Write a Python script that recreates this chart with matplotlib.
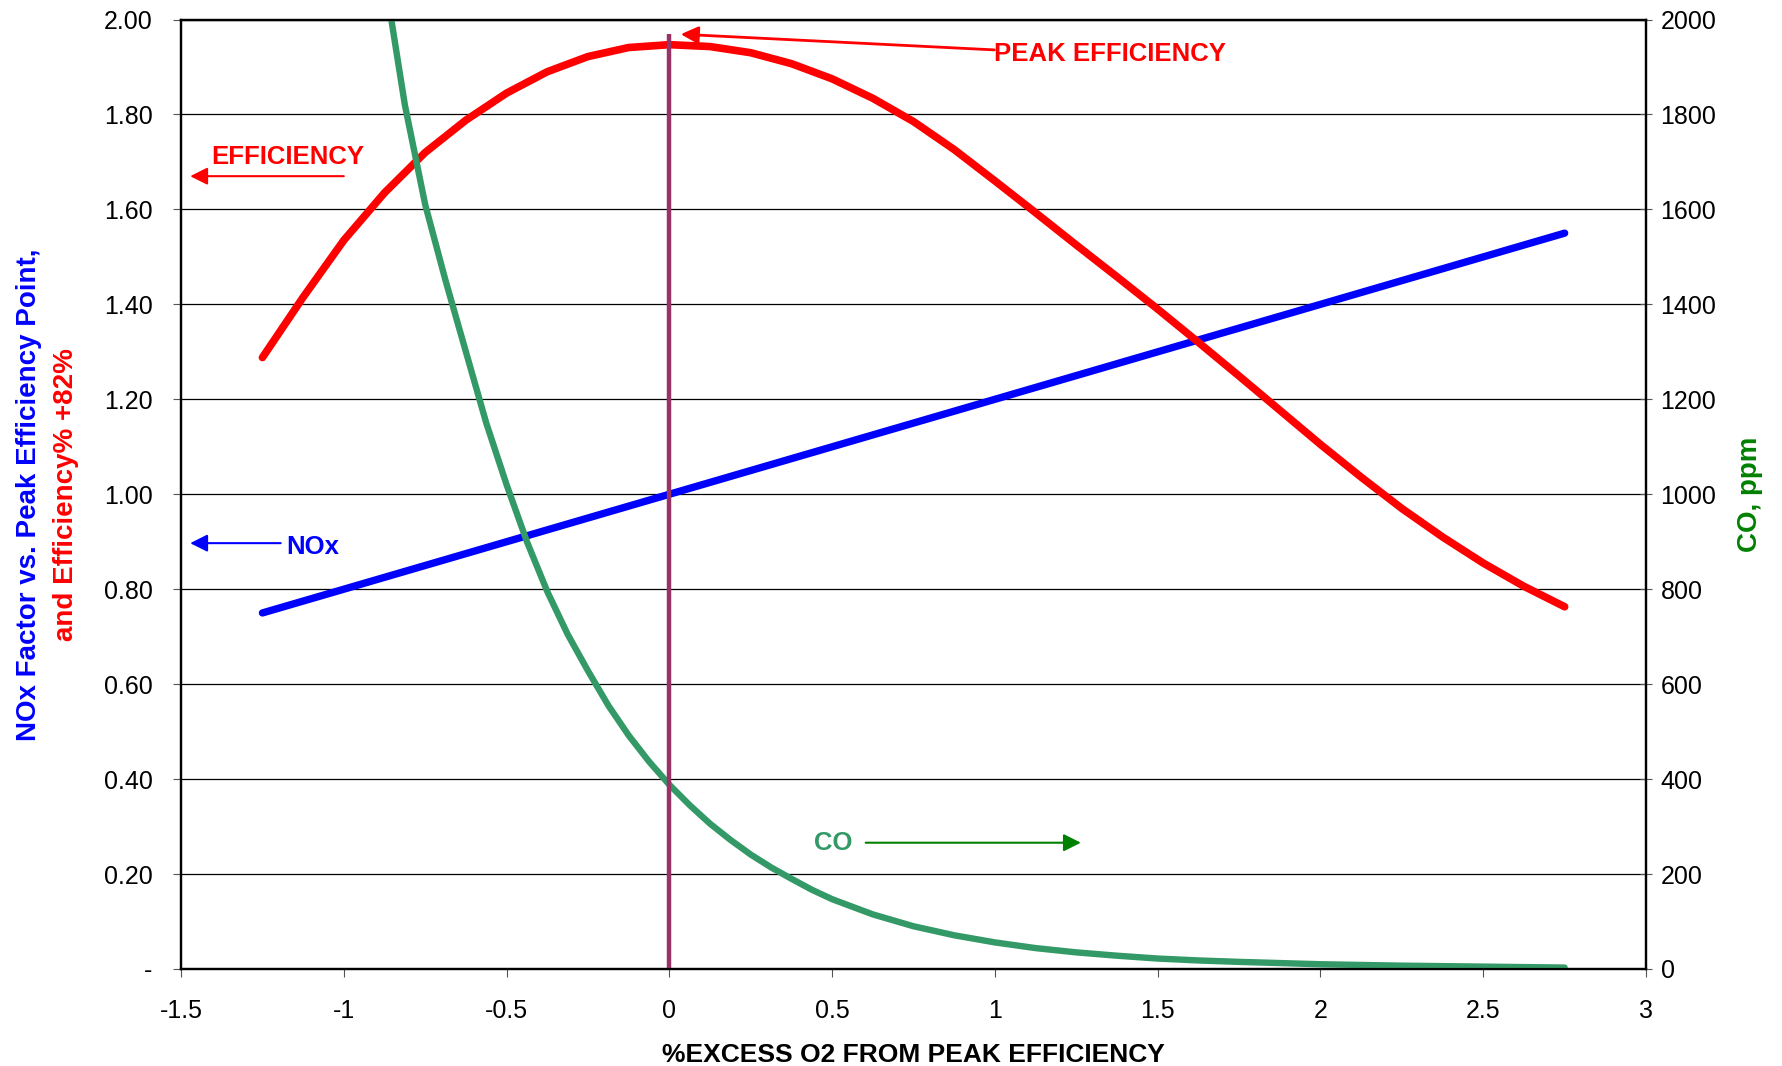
import matplotlib
matplotlib.use('Agg')
import matplotlib.pyplot as plt
from matplotlib.ticker import FuncFormatter, MultipleLocator

plt.rcParams['font.family'] = ['Liberation Sans', 'DejaVu Sans']

# %excess O2 from peak efficiency
o2_eff = [-1.25, -1.125, -1.0, -0.875, -0.75, -0.625, -0.5, -0.375, -0.25, -0.125,
          0.0, 0.125, 0.25, 0.375, 0.5, 0.625, 0.75, 0.875, 1.0, 1.125,
          1.25, 1.375, 1.5, 1.625, 1.75, 1.875, 2.0, 2.125, 2.25, 2.375,
          2.5, 2.625, 2.75]
efficiency = [1.288, 1.415, 1.535, 1.635, 1.72, 1.788, 1.845, 1.89, 1.922, 1.941,
              1.947, 1.943, 1.93, 1.907, 1.875, 1.834, 1.785, 1.726, 1.66, 1.593,
              1.525, 1.458, 1.39, 1.32, 1.249, 1.177, 1.105, 1.036, 0.97, 0.91,
              0.855, 0.806, 0.763]

o2_nox = [-1.25, -1.0, -0.5, 0.0, 0.5, 1.0, 1.5, 2.0, 2.5, 2.75]
nox = [0.75, 0.80, 0.90, 1.00, 1.10, 1.20, 1.30, 1.40, 1.50, 1.55]

o2_co = [-1.0, -0.875, -0.8125, -0.75, -0.6875, -0.625, -0.5625, -0.5, -0.4375, -0.375,
         -0.3125, -0.25, -0.1875, -0.125, -0.0625, 0.0, 0.0625, 0.125, 0.1875, 0.25,
         0.3125, 0.375, 0.4375, 0.5, 0.625, 0.75, 0.875, 1.0, 1.125, 1.25,
         1.375, 1.5, 1.625, 1.75, 2.0, 2.25, 2.5, 2.75]
co_ppm = [2750, 2090, 1820, 1610, 1450, 1300, 1150, 1020, 900, 795,
          705, 628, 555, 492, 437, 388, 345, 306, 272, 241,
          214, 190, 167, 147, 115, 90, 71, 56, 44, 35,
          28, 22, 18, 15, 10, 7, 5, 3]

peak_x = [0.0, 0.0]
peak_ppm = [0, 1970]

x_ticks = [-1.5, -1, -0.5, 0, 0.5, 1, 1.5, 2, 2.5, 3]

fig = plt.figure(figsize=(17.82, 10.66), dpi=100)
ax = fig.add_axes([0.1016, 0.0910, 0.8221, 0.8907])
ax2 = ax.twinx()

ax.plot(o2_nox, nox, color='#0000FF', lw=5.3, solid_capstyle='round', solid_joinstyle='round')
ax.plot(o2_eff, efficiency, color='#FF0000', lw=5.5, solid_capstyle='round', solid_joinstyle='round')
ax2.plot(o2_co, co_ppm, color='#339966', lw=4.6, solid_capstyle='round', solid_joinstyle='round')
ax2.plot(peak_x, peak_ppm, color='#993366', lw=3.2, solid_capstyle='butt')

ax.set_xlim(-1.5, 3)
ax.set_ylim(0, 2)
ax2.set_ylim(0, 2000)

ax.set_xticks(x_ticks)
ax.set_xticklabels([('%g' % v) for v in x_ticks])
ax.yaxis.set_major_locator(MultipleLocator(0.2))
ax.yaxis.set_major_formatter(FuncFormatter(lambda v, p: '-' if abs(v) < 1e-9 else '%.2f' % v))
ax2.yaxis.set_major_locator(MultipleLocator(200))
ax2.yaxis.set_major_formatter(FuncFormatter(lambda v, p: '%d' % v))

ax.grid(axis='y', color='black', lw=0.9)
ax.set_axisbelow(True)

ax.tick_params(axis='y', direction='out', length=5.5, width=0.8, color='#555555', labelsize=18, pad=15)
ax.tick_params(axis='x', direction='out', length=5.5, width=0.8, color='#555555', labelsize=18, pad=16)
ax2.tick_params(axis='y', direction='inout', length=9, width=0.8, color='#555555', labelsize=18, pad=6)

for a in (ax, ax2):
  for s in a.spines.values():
    s.set_linewidth(1.6)
    s.set_color('black')

# annotations
arrow = dict(arrowstyle='-|>,head_length=0.7,head_width=0.35', lw=1.5, shrinkA=0, shrinkB=0, mutation_scale=15)

ax.annotate('', xy=(-1.472, 1.67), xytext=(-1.0, 1.67), arrowprops=dict(arrow, color='#FF0000'))
ax.text(-1.172, 1.711, 'EFFICIENCY', color='#FF0000', fontsize=18.5, fontweight='bold', ha='center', va='center')

ax.annotate('', xy=(-1.472, 0.897), xytext=(-1.194, 0.897), arrowprops=dict(arrow, color='#0000FF'))
ax.text(-1.176, 0.888, 'NOx', color='#0000FF', fontsize=18.5, fontweight='bold', ha='left', va='center')

ax.annotate('', xy=(0.035, 1.969), xytext=(0.998, 1.936), arrowprops=dict(arrow, color='#FF0000', lw=2))
ax.text(0.997, 1.927, 'PEAK EFFICIENCY', color='#FF0000', fontsize=18.5, fontweight='bold', ha='left', va='center')

ax2.annotate('', xy=(1.264, 266), xytext=(0.603, 266), arrowprops=dict(arrow, color='#008000'))
ax2.text(0.504, 266, 'CO', color='#339966', fontsize=18.5, fontweight='bold', ha='center', va='center')

# axis titles
fig.text(0.016, 0.536, 'NOx Factor vs. Peak Efficiency Point,', color='#0000FF', fontsize=20,
         fontweight='bold', rotation=90, ha='center', va='center')
fig.text(0.037, 0.536, 'and Efficiency% +82%', color='#FF0000', fontsize=20,
         fontweight='bold', rotation=90, ha='center', va='center')
fig.text(0.982, 0.536, 'CO, ppm', color='#008000', fontsize=20,
         fontweight='bold', rotation=90, ha='center', va='center')
fig.text(0.5126, 0.010, '%EXCESS O2 FROM PEAK EFFICIENCY', color='black', fontsize=19,
         fontweight='bold', ha='center', va='center')

fig.savefig('out.png', dpi=100, facecolor='white')
